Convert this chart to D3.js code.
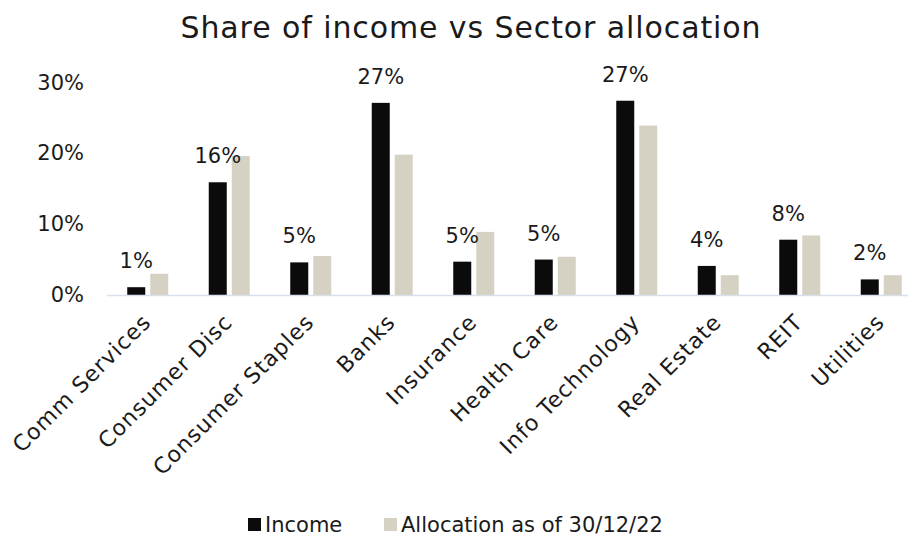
<!DOCTYPE html>
<html>
<head>
<meta charset="utf-8">
<script src="https://cdn.jsdelivr.net/npm/d3@7"></script>
<style>
  html, body { margin: 0; padding: 0; background: #ffffff; }
  svg text { font-family: "DejaVu Sans", sans-serif; fill: #1a1a1a; }
</style>
</head>
<body>
<svg id="chart" width="908" height="537"></svg>
<script>
// Sector categories along the x axis
const categories = ["Comm Services", "Consumer Disc", "Consumer Staples", "Banks", "Insurance",
                    "Health Care", "Info Technology", "Real Estate", "REIT", "Utilities"];
// Share of income by sector (fraction)
const income = [0.011, 0.159, 0.046, 0.271, 0.047, 0.050, 0.274, 0.041, 0.078, 0.022];
// Portfolio allocation by sector as of 30/12/22 (fraction)
const allocation = [0.030, 0.196, 0.055, 0.198, 0.089, 0.054, 0.239, 0.028, 0.084, 0.028];
// Series names and y-axis ticks
const seriesNames = ["Income", "Allocation as of 30/12/22"];
const yTicks = [0, 0.10, 0.20, 0.30];

const colors = { "Income": "#0b0b0b", "Allocation as of 30/12/22": "#d6d2c3" };

const svg = d3.select("#chart");
const W = 908, H = 537;
const plot = { left: 107, right: 922, top: 82.3, bottom: 295 };

const x = d3.scaleBand().domain(categories).range([plot.left, plot.right]).padding(0);
const sub = d3.scaleBand().domain(seriesNames)
  .range([x.bandwidth() / 2 - 20.5, x.bandwidth() / 2 + 20.5])
  .paddingInner(5 / 23).paddingOuter(0);
const y = d3.scaleLinear().domain([0, 0.30]).range([plot.bottom, plot.top]);
const pct = d3.format(".0%");

// Title
svg.append("text")
  .attr("x", 471).attr("y", 38)
  .attr("text-anchor", "middle")
  .style("font-size", "30px")
  .style("letter-spacing", "0.9px")
  .text("Share of income vs Sector allocation");

// Y axis labels (no axis line)
const yAxis = d3.axisLeft(y).tickValues(yTicks).tickFormat(pct).tickSize(0).tickPadding(0);
const gy = svg.append("g").attr("transform", `translate(84,0)`).call(yAxis);
gy.select(".domain").remove();
gy.selectAll("text").style("font-size", "21px").attr("fill", "#1a1a1a").style("font-family", null);

// Bars
const rows = categories.map((c, i) => ({ cat: c, values: [
  { key: "Income", v: income[i] },
  { key: "Allocation as of 30/12/22", v: allocation[i] }
]}));

const groups = svg.append("g").selectAll("g").data(rows).join("g")
  .attr("transform", d => `translate(${x(d.cat)},0)`);

groups.selectAll("rect").data(d => d.values).join("rect")
  .attr("x", d => sub(d.key))
  .attr("width", sub.bandwidth())
  .attr("y", d => y(d.v))
  .attr("height", d => y(0) - y(d.v))
  .attr("fill", d => colors[d.key]);

// Value labels above income bars
groups.append("text")
  .attr("x", d => sub("Income") + sub.bandwidth() / 2)
  .attr("y", d => y(d.values[0].v) - 19)
  .attr("text-anchor", "middle")
  .style("font-size", "21px")
  .text(d => pct(Math.round(d.values[0].v * 100) / 100));

// X axis baseline
svg.append("line")
  .attr("x1", plot.left).attr("x2", W)
  .attr("y1", y(0) + 0.5).attr("y2", y(0) + 0.5)
  .attr("stroke", "#d9dfeb").attr("stroke-width", 1.5);

// Rotated category labels
const xAxis = d3.axisBottom(x).tickSize(0).tickPadding(0);
const gx = svg.append("g").attr("transform", `translate(0,${plot.bottom})`).call(xAxis);
gx.select(".domain").remove();
gx.selectAll("text")
  .style("font-family", null)
  .style("font-size", "22px")
  .style("letter-spacing", "1px")
  .attr("fill", "#1a1a1a")
  .attr("text-anchor", "end")
  .attr("dy", "0.35em")
  .attr("transform", "translate(-1,23) rotate(-45)");

// Legend
const legend = svg.append("g").attr("transform", "translate(248,518)");
const legItems = [
  { key: "Income", x: 0 },
  { key: "Allocation as of 30/12/22", x: 136 }
];
const li = legend.selectAll("g").data(legItems).join("g")
  .attr("transform", d => `translate(${d.x},0)`);
li.append("rect").attr("width", 13).attr("height", 13).attr("fill", d => colors[d.key]);
li.append("text").attr("x", 17).attr("y", 6.5).attr("dy", "0.36em")
  .style("font-size", "21px").text(d => d.key);
</script>
</body>
</html>
